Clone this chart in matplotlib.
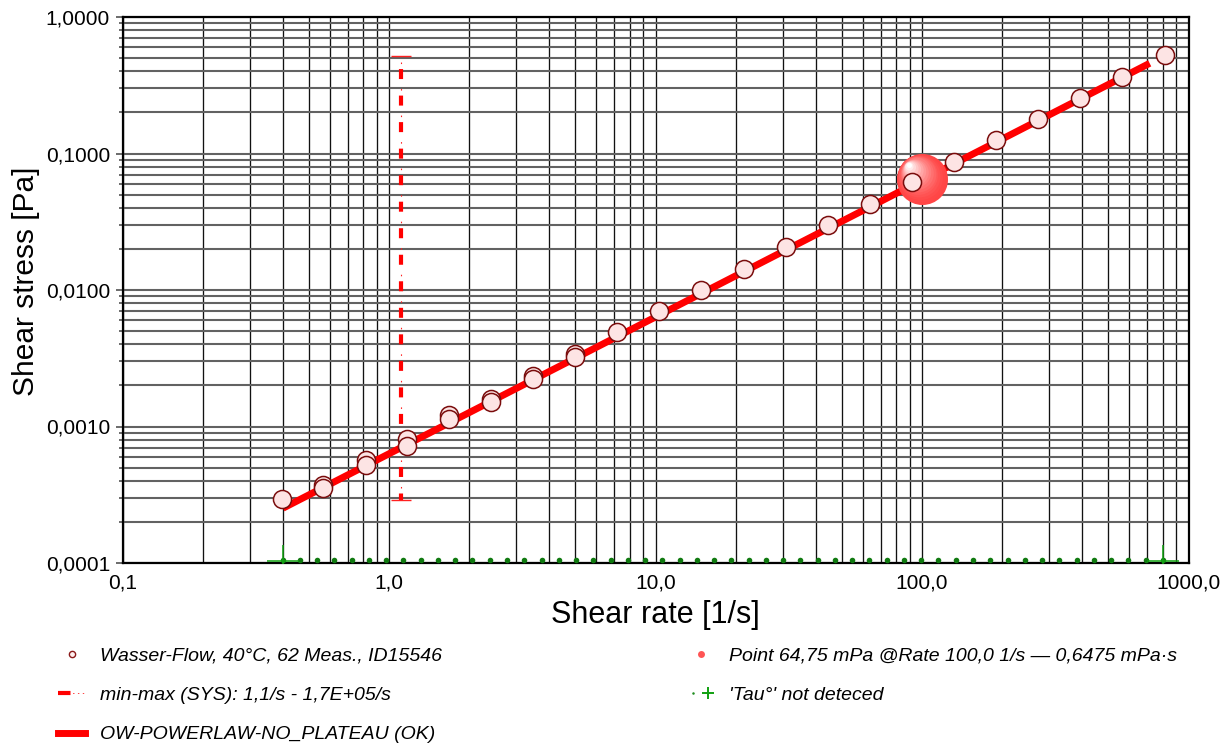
import matplotlib
matplotlib.use("Agg")
import matplotlib.pyplot as plt
import numpy as np
from matplotlib.lines import Line2D
from matplotlib.legend_handler import HandlerTuple
from matplotlib.ticker import FixedLocator, FixedFormatter, LogLocator, NullFormatter
from matplotlib.transforms import ScaledTranslation

plt.rcParams['font.family'] = ['Liberation Sans', 'DejaVu Sans']
plt.rcParams['lines.scale_dashes'] = False

# ---------------- data ----------------
meas_rate = [0.398, 0.567, 0.567, 0.822, 0.822, 1.17, 1.17, 1.68, 1.68, 2.42, 2.42,
             3.47, 3.47, 4.99, 4.99, 7.17, 10.3, 14.8, 21.5, 30.9, 44.3, 63.7, 91.5,
             131.5, 189.0, 271.6, 390.0, 561.0, 813.0]
meas_stress = [0.000293, 0.000372, 0.000357, 0.000568, 0.000522, 0.00081, 0.00072,
               0.00121, 0.00113, 0.00159, 0.00151, 0.00236, 0.00224, 0.00338, 0.00324,
               0.00492, 0.00702, 0.0100, 0.01426, 0.0207, 0.0299, 0.0427, 0.0618,
               0.0866, 0.1256, 0.179, 0.255, 0.363, 0.527]

fit_rate = [0.40, 715.0]
fit_stress = [0.000252, 0.458]

minmax_rate = [1.11, 1.11]
minmax_stress = [0.518, 0.000290]

point_rate = [100.0]
point_stress = [0.06475]

tau_rate = [0.399, 0.463, 0.538, 0.624, 0.724, 0.841, 0.976, 1.133, 1.315, 1.527,
            1.772, 2.057, 2.388, 2.772, 3.218, 3.735, 4.336, 5.033, 5.843, 6.782,
            7.873, 9.140, 10.61, 12.31, 14.29, 16.59, 19.26, 22.36, 25.96, 30.13,
            34.98, 40.60, 47.13, 54.70, 63.50, 73.71, 85.56, 99.33, 115.3, 133.8,
            155.4, 180.3, 209.4, 243.0, 282.1, 327.4, 380.1, 441.2, 512.2, 594.6,
            690.2, 801.2]
tau_stress = [0.000105] * len(tau_rate)
tau_end_rate = [0.399, 801.2]
tau_end_stress = [0.000103, 0.000103]

x_ticks = [0.1, 1.0, 10.0, 100.0, 1000.0]
x_ticklabels = ['0,1', '1,0', '10,0', '100,0', '1000,0']
y_ticks = [0.0001, 0.001, 0.01, 0.1, 1.0]
y_ticklabels = ['0,0001', '0,0010', '0,0100', '0,1000', '1,0000']

label_meas = 'Wasser-Flow, 40°C, 62 Meas., ID15546'
label_minmax = 'min-max (SYS): 1,1/s - 1,7E+05/s'
label_fit = 'OW-POWERLAW-NO_PLATEAU (OK)'
label_point = 'Point 64,75 mPa @Rate 100,0 1/s — 0,6475 mPa·s'
label_tau = "'Tau°' not deteced"

# ---------------- figure ----------------
fig = plt.figure(figsize=(12.25, 7.47), dpi=100)
ax = fig.add_axes([122.5 / 1225, (747 - 563) / 747, 1066 / 1225, 546 / 747])
ax.set_xscale('log')
ax.set_yscale('log')
ax.set_xlim(0.1, 1000)
ax.set_ylim(0.0001, 1.0)
ax.set_axisbelow(True)

ax.xaxis.set_major_locator(FixedLocator(x_ticks))
ax.xaxis.set_major_formatter(FixedFormatter(x_ticklabels))
ax.yaxis.set_major_locator(FixedLocator(y_ticks))
ax.yaxis.set_major_formatter(FixedFormatter(y_ticklabels))
ax.xaxis.set_minor_locator(LogLocator(base=10, subs=np.arange(2, 10), numticks=20))
ax.yaxis.set_minor_locator(LogLocator(base=10, subs=np.arange(2, 10), numticks=20))
ax.xaxis.set_minor_formatter(NullFormatter())
ax.yaxis.set_minor_formatter(NullFormatter())

ax.grid(which='both', axis='x', color='#111111', lw=0.95)
ax.grid(which='both', axis='y', color='#626262', lw=1.5)

ax.tick_params(axis='y', which='major', direction='out', length=5, width=1.1,
               color='#444444', pad=4, labelsize=15)
ax.tick_params(axis='y', which='minor', direction='out', length=3, width=1.1,
               color='#444444')
ax.tick_params(axis='x', which='major', direction='out', length=0, pad=7.5,
               labelsize=15)
ax.tick_params(axis='x', which='minor', length=0)
for s in ax.spines.values():
    s.set_linewidth(1.6)
    s.set_color('black')

ax.set_xlabel('Shear rate [1/s]', fontsize=22)
ax.set_ylabel('Shear stress [Pa]', fontsize=21.5)
ax.xaxis.set_label_coords(0.5, -0.068)
ax.yaxis.set_label_coords(-0.077, 0.515)

# min-max bar
ax.plot(minmax_rate, minmax_stress, color='#ff2020', lw=0.8,
        linestyle=(14.76, (1.1, 18.0)), zorder=2.5, solid_capstyle='butt')
ax.plot(minmax_rate, minmax_stress, color='#ff0000', lw=3.0,
        linestyle=(9.7, (7.2, 11.9)), zorder=2.6, dash_capstyle='butt')
ax.plot(minmax_rate, minmax_stress, linestyle='none', marker='_', markersize=14.5,
        markeredgewidth=1.0, color='#ff2020', zorder=2.6)

# fit line
ax.plot(fit_rate, fit_stress, color='#ff0000', lw=5.0, solid_capstyle='butt', zorder=3)

# highlighted point (shaded sphere)
base = np.array([1.0, 0.27, 0.27])
n = 16
for i in range(n):
    t = i / (n - 1)
    r_px = 25.5 * (1 - t) + 2.5 * t
    dx, dy = -13.5 * t, 14.5 * t
    col = base * (1 - t ** 1.6) + np.array([1.0, 1.0, 1.0]) * t ** 1.6
    tr = ax.transData + ScaledTranslation(dx / 100, dy / 100, fig.dpi_scale_trans)
    ax.plot(point_rate, point_stress, linestyle='none', marker='o',
            markersize=2 * r_px * 0.72, markerfacecolor=tuple(col),
            markeredgewidth=0, transform=tr, zorder=4)

# measurement points
ax.plot(meas_rate, meas_stress, linestyle='none', marker='o', markersize=13,
        markerfacecolor='#fde4e4', markeredgecolor='#7a0c0c', markeredgewidth=1.1,
        zorder=5)

# tau series
ax.plot(tau_rate, tau_stress, linestyle='none', marker='o', markersize=4.0,
        color='#107a10', markeredgewidth=0, zorder=6)
ax.plot(tau_end_rate, tau_end_stress, linestyle='none', marker='+', markersize=23,
        markeredgewidth=1.1, color='#10a010', zorder=6)

# ---------------- legends ----------------
h_meas = Line2D([], [], linestyle='none', marker='o', markersize=4.5,
                markerfacecolor='#fff0f0', markeredgecolor='#8b1a1a', markeredgewidth=1.0)
h_mm1 = Line2D([], [], color='#ff0000', lw=3.0, linestyle=(0, (9.0, 30.0)))
h_mm2 = Line2D([], [], color='#ff4040', lw=0.7, linestyle=(0, (1.0, 2.5)))
h_fit = Line2D([], [], color='#ff0000', lw=5.0)
h_point = Line2D([], [], linestyle='none', marker='o', markersize=5,
                 markerfacecolor='#ff5555', markeredgewidth=0)
h_tau1 = Line2D([], [], linestyle='none', marker='o', markersize=1.8,
                color='#1e8c1e', markeredgewidth=0)
h_tau2 = Line2D([], [], linestyle='none', marker='+', markersize=8,
                color='#10a010', markeredgewidth=1.4)

common = dict(frameon=False, loc='upper left', borderaxespad=0, borderpad=0,
              handlelength=1.4, handletextpad=0.77, labelspacing=1.12,
              prop={'style': 'italic', 'size': 14}, bbox_transform=fig.transFigure)
leg1 = fig.legend([h_meas, (h_mm2, h_mm1), h_fit], [label_meas, label_minmax, label_fit],
                  bbox_to_anchor=(58 / 1225, (747 - 647) / 747),
                  handler_map={tuple: HandlerTuple(ndivide=1)}, **common)
leg2 = fig.legend([h_point, (h_tau1, h_tau2)], [label_point, label_tau],
                  bbox_to_anchor=(687 / 1225, (747 - 647) / 747),
                  handler_map={tuple: HandlerTuple(ndivide=None, pad=0.2)}, **common)

fig.savefig('out.png', dpi=100)
